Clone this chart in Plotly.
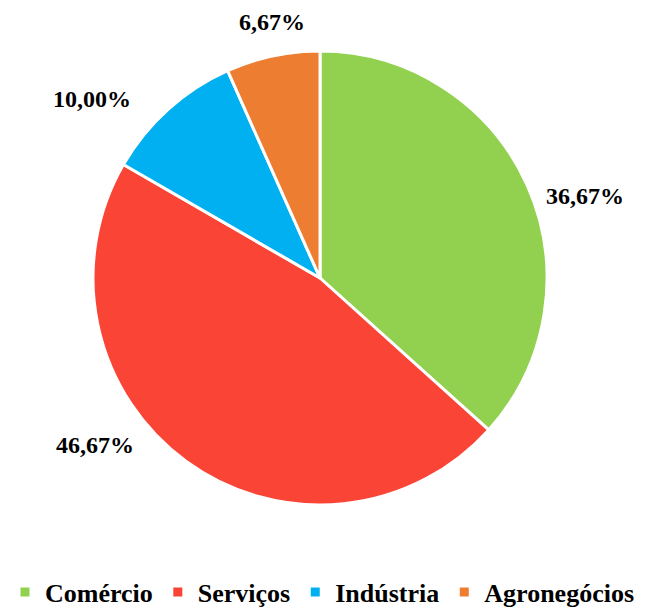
import plotly.graph_objects as go

# ---- data ----
categories = ["Comércio", "Serviços", "Indústria", "Agronegócios"]
percentages = [36.67, 46.67, 10.00, 6.67]
colors = ["#92D050", "#F94436", "#00B0F0", "#ED7D31"]

# ---- layout settings ----
W, H = 645, 608
label_px = [(585, 196), (95, 445), (92, 99), (272, 22)]  # label centres (px)
font_family = "Liberation Serif"

fig = go.Figure(go.Pie(
    labels=categories,
    values=percentages,
    marker=dict(colors=colors, line=dict(color="white", width=3)),
    sort=False,
    direction="clockwise",
    rotation=0,
    textinfo="none",
    hoverinfo="label+percent",
    domain=dict(x=[(320 - 227) / W, (320 + 227) / W], y=[1 - 505 / H, 1 - 51 / H]),
))

for (px, py), v in zip(label_px, percentages):
    fig.add_annotation(
        x=px / W, y=1 - py / H, xref="paper", yref="paper",
        text="<b>" + f"{v:.2f}".replace(".", ",") + "%</b>",
        showarrow=False, xanchor="center", yanchor="middle",
        font=dict(family=font_family, size=24, color="black"),
    )

fig.update_layout(
    width=W, height=H,
    margin=dict(l=0, r=0, t=0, b=0, autoexpand=False),
    paper_bgcolor="white", plot_bgcolor="white",
    font=dict(family=font_family, color="black"),
    legend=dict(
        orientation="h", x=0.5, xanchor="center", y=1 - 592 / H, yanchor="middle",
        font=dict(family=font_family, size=26, color="black", weight="bold"),
        itemwidth=30, tracegroupgap=0,
    ),
    showlegend=True,
)

fig.write_html("out.html", config={"displayModeBar": False},
               post_script="document.body.style.margin='0';")
